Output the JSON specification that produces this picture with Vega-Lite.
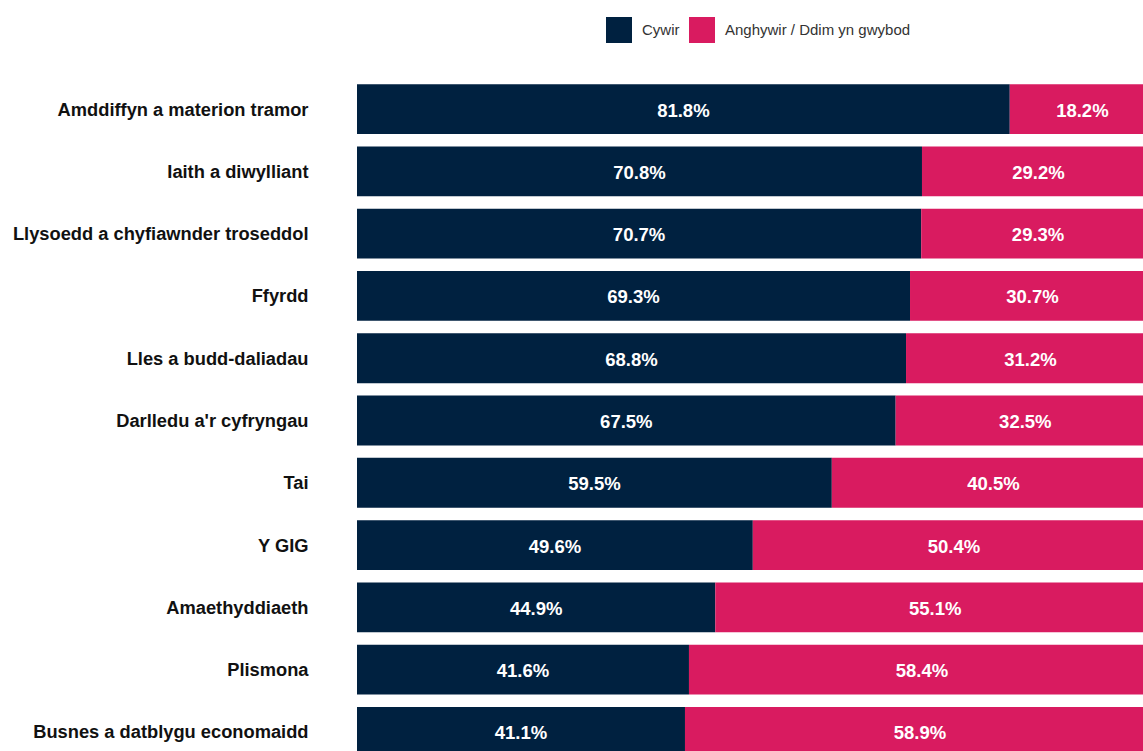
{
  "$schema": "https://vega.github.io/schema/vega-lite/v6.json",
  "autosize": {"type": "none"},
  "padding": {"left": 357, "top": 78, "right": 0, "bottom": 0},
  "width": 798,
  "height": 685,
  "background": "white",
  "config": {"view": {"stroke": null}, "font": "Liberation Sans"},
  "data": {
    "values": [
      {"topic": "Amddiffyn a materion tramor", "answer": "Cywir", "k": 1, "value": 81.8},
      {"topic": "Amddiffyn a materion tramor", "answer": "Anghywir / Ddim yn gwybod", "k": 2, "value": 18.2},
      {"topic": "Iaith a diwylliant", "answer": "Cywir", "k": 1, "value": 70.8},
      {"topic": "Iaith a diwylliant", "answer": "Anghywir / Ddim yn gwybod", "k": 2, "value": 29.2},
      {"topic": "Llysoedd a chyfiawnder troseddol", "answer": "Cywir", "k": 1, "value": 70.7},
      {"topic": "Llysoedd a chyfiawnder troseddol", "answer": "Anghywir / Ddim yn gwybod", "k": 2, "value": 29.3},
      {"topic": "Ffyrdd", "answer": "Cywir", "k": 1, "value": 69.3},
      {"topic": "Ffyrdd", "answer": "Anghywir / Ddim yn gwybod", "k": 2, "value": 30.7},
      {"topic": "Lles a budd-daliadau", "answer": "Cywir", "k": 1, "value": 68.8},
      {"topic": "Lles a budd-daliadau", "answer": "Anghywir / Ddim yn gwybod", "k": 2, "value": 31.2},
      {"topic": "Darlledu a'r cyfryngau", "answer": "Cywir", "k": 1, "value": 67.5},
      {"topic": "Darlledu a'r cyfryngau", "answer": "Anghywir / Ddim yn gwybod", "k": 2, "value": 32.5},
      {"topic": "Tai", "answer": "Cywir", "k": 1, "value": 59.5},
      {"topic": "Tai", "answer": "Anghywir / Ddim yn gwybod", "k": 2, "value": 40.5},
      {"topic": "Y GIG", "answer": "Cywir", "k": 1, "value": 49.6},
      {"topic": "Y GIG", "answer": "Anghywir / Ddim yn gwybod", "k": 2, "value": 50.4},
      {"topic": "Amaethyddiaeth", "answer": "Cywir", "k": 1, "value": 44.9},
      {"topic": "Amaethyddiaeth", "answer": "Anghywir / Ddim yn gwybod", "k": 2, "value": 55.1},
      {"topic": "Plismona", "answer": "Cywir", "k": 1, "value": 41.6},
      {"topic": "Plismona", "answer": "Anghywir / Ddim yn gwybod", "k": 2, "value": 58.4},
      {"topic": "Busnes a datblygu economaidd", "answer": "Cywir", "k": 1, "value": 41.1},
      {"topic": "Busnes a datblygu economaidd", "answer": "Anghywir / Ddim yn gwybod", "k": 2, "value": 58.9}
    ]
  },
  "encoding": {
    "y": {
      "field": "topic",
      "type": "nominal",
      "sort": null,
      "scale": {"paddingInner": 0.2, "paddingOuter": 0.1},
      "axis": {
        "title": null,
        "domain": false,
        "ticks": false,
        "labelPadding": 49,
        "labelFont": "Liberation Sans",
        "labelFontWeight": "bold",
        "labelFontSize": 18.3,
        "labelColor": "#111111",
        "labelLimit": 400,
        "labelOffset": 1.5
      }
    },
    "x": {
      "field": "value",
      "type": "quantitative",
      "stack": "zero",
      "scale": {"domain": [0, 100], "nice": false},
      "axis": null
    }
  },
  "layer": [
    {
      "mark": {"type": "bar"},
      "encoding": {
        "color": {
          "field": "answer",
          "type": "nominal",
          "sort": ["Cywir", "Anghywir / Ddim yn gwybod"],
          "scale": {"domain": ["Cywir", "Anghywir / Ddim yn gwybod"], "range": ["#002140", "#D91B60"]},
          "legend": {
            "title": null,
            "orient": "none",
            "legendX": 249,
            "legendY": -61,
            "direction": "horizontal",
            "symbolType": "square",
            "symbolSize": 676,
            "symbolStrokeWidth": 0,
            "labelFont": "Liberation Sans",
            "labelFontSize": 15,
            "labelColor": "#333333",
            "labelOffset": 10,
            "labelLimit": 400,
            "columnPadding": 9
          }
        },
        "order": {"field": "k", "type": "quantitative"}
      }
    },
    {
      "transform": [{"calculate": "format(datum.value, '.1f') + '%'", "as": "label"}],
      "mark": {"type": "text", "color": "white", "font": "Liberation Sans", "fontWeight": "bold", "fontSize": 18.5, "baseline": "middle", "align": "center", "dy": 1.5},
      "encoding": {
        "x": {"field": "value", "type": "quantitative", "stack": "zero", "bandPosition": 0.5},
        "text": {"field": "label", "type": "nominal"},
        "detail": {"field": "answer"},
        "order": {"field": "k", "type": "quantitative"}
      }
    }
  ]
}
